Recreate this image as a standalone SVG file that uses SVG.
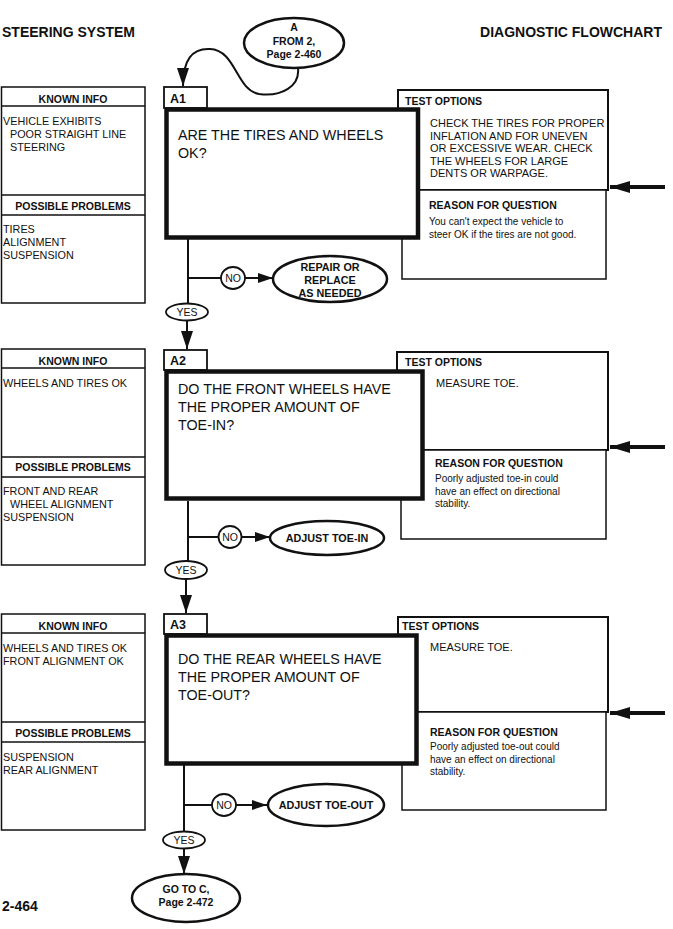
<svg xmlns="http://www.w3.org/2000/svg" width="673" height="929" viewBox="0 0 673 929">
<defs>
<style>
text{font-family:"Liberation Sans",Arial,sans-serif;fill:#111}
.b{font-weight:bold}
.h1{font-size:14px;font-weight:bold}
.hd{font-size:10.5px;font-weight:bold}
.li{font-size:10.8px}
.q{font-size:14.3px}
.to{font-size:11px}
.rs{font-size:10px}
.ov{font-size:10.8px;font-weight:bold}
.sm{font-size:10.5px}
.lb{font-size:12.5px;font-weight:bold}
.thin{fill:#fff;stroke:#111;stroke-width:1.5}
.mid{fill:#fff;stroke:#111;stroke-width:2}
.main{fill:#fff;stroke:#111;stroke-width:4.5}
.oval{fill:#fff;stroke:#111;stroke-width:2.5}
.small{fill:#fff;stroke:#111;stroke-width:1.8}
.ln{fill:none;stroke:#111;stroke-width:2}
.big{fill:none;stroke:#111;stroke-width:4}
</style>
<marker id="ah" viewBox="0 0 18 12" refX="18" refY="6" markerWidth="18" markerHeight="12" markerUnits="userSpaceOnUse" orient="auto"><path d="M0,0 L18,6 L0,12 z" fill="#111"/></marker>
<marker id="ahs" viewBox="0 0 15 10" refX="15" refY="5" markerWidth="15" markerHeight="10" markerUnits="userSpaceOnUse" orient="auto"><path d="M0,0 L15,5 L0,10 z" fill="#111"/></marker>
<marker id="ahb" viewBox="0 0 20 12" refX="20" refY="6" markerWidth="20" markerHeight="12" markerUnits="userSpaceOnUse" orient="auto"><path d="M0,0 L20,6 L0,12 z" fill="#111"/></marker>
</defs>
<rect width="673" height="929" fill="#fff"/>

<g id="titles">
<text x="2" y="37" class="h1">STEERING SYSTEM</text>
<text x="662" y="37" class="h1" text-anchor="end">DIAGNOSTIC FLOWCHART</text>
<text x="2" y="911" class="h1">2-464</text>
</g>

<g id="connectors">
<path class="ln" d="M298,68 C300,86 282,97 259,94 C236,90 236,50 210,49 C192,48 183,60 183,86" marker-end="url(#ah)"/>
<!-- A1 -->
<line class="ln" x1="188" y1="239" x2="188" y2="304"/>
<line class="ln" x1="188" y1="278" x2="221" y2="278"/>
<line class="ln" x1="245" y1="278" x2="273" y2="278" marker-end="url(#ahs)"/>
<line class="ln" x1="187" y1="320" x2="187" y2="349" marker-end="url(#ah)"/>
<line class="big" x1="665" y1="187" x2="610" y2="187" marker-end="url(#ahb)"/>
<!-- A2 -->
<line class="ln" x1="188" y1="501" x2="188" y2="561"/>
<line class="ln" x1="188" y1="537" x2="219" y2="537"/>
<line class="ln" x1="242" y1="537" x2="270" y2="537" marker-end="url(#ahs)"/>
<line class="ln" x1="186" y1="579" x2="186" y2="613" marker-end="url(#ah)"/>
<line class="big" x1="665" y1="447" x2="610" y2="447" marker-end="url(#ahb)"/>
<!-- A3 -->
<line class="ln" x1="184" y1="765" x2="184" y2="832"/>
<line class="ln" x1="184" y1="805" x2="212" y2="805"/>
<line class="ln" x1="236" y1="805" x2="267" y2="805" marker-end="url(#ahs)"/>
<line class="ln" x1="184" y1="848" x2="184" y2="874" marker-end="url(#ah)"/>
<line class="big" x1="665" y1="713" x2="610" y2="713" marker-end="url(#ahb)"/>
</g>

<g id="startA">
<ellipse class="oval" cx="294" cy="43" rx="50" ry="25"/>
<text x="294" y="31" class="sm b" text-anchor="middle">A</text>
<text x="294" y="45" class="sm b" text-anchor="middle">FROM 2,</text>
<text x="294" y="58" class="sm b" text-anchor="middle">Page 2-460</text>
</g>

<!-- ===== A1 ===== -->
<g id="A1-known">
<rect class="thin" x="1.5" y="87" width="143.5" height="216"/>
<line class="thin" x1="1.5" y1="106" x2="145" y2="106"/>
<line class="thin" x1="1.5" y1="195" x2="145" y2="195"/>
<line class="thin" x1="1.5" y1="215" x2="145" y2="215"/>
<text x="73" y="103" class="hd" text-anchor="middle">KNOWN INFO</text>
<text x="3" y="125" class="li">VEHICLE EXHIBITS</text>
<text x="10" y="138" class="li">POOR STRAIGHT LINE</text>
<text x="10" y="151" class="li">STEERING</text>
<text x="73" y="210" class="hd" text-anchor="middle">POSSIBLE PROBLEMS</text>
<text x="3" y="233" class="li">TIRES</text>
<text x="3" y="246" class="li">ALIGNMENT</text>
<text x="3" y="259" class="li">SUSPENSION</text>
</g>
<g id="A1-test">
<rect class="mid" x="398" y="90" width="210" height="100"/>
<text x="405" y="105" class="hd">TEST OPTIONS</text>
<text x="430" y="127" class="to">CHECK THE TIRES FOR PROPER</text>
<text x="430" y="139.5" class="to">INFLATION AND FOR UNEVEN</text>
<text x="430" y="152" class="to">OR EXCESSIVE WEAR.  CHECK</text>
<text x="430" y="164.5" class="to">THE WHEELS FOR LARGE</text>
<text x="430" y="177" class="to">DENTS OR WARPAGE.</text>
</g>
<g id="A1-reason">
<rect class="thin" x="402" y="190" width="204" height="89"/>
<text x="429" y="209" class="hd">REASON FOR QUESTION</text>
<text x="429" y="225" class="rs">You can't expect the vehicle to</text>
<text x="429" y="238" class="rs">steer OK if the tires are not good.</text>
</g>
<g id="A1">
<rect class="small" x="164" y="87" width="43" height="21"/>
<text x="170" y="103" class="lb">A1</text>
<rect class="main" x="166.5" y="109.5" width="251.5" height="128"/>
<text x="178" y="140" class="q">ARE THE TIRES AND WHEELS</text>
<text x="178" y="158" class="q">OK?</text>
</g>
<g id="A1-no">
<ellipse class="small" cx="233" cy="278" rx="12" ry="11"/>
<text x="233" y="282" class="sm" text-anchor="middle">NO</text>
</g>
<g id="A1-repair">
<ellipse class="oval" cx="330" cy="279" rx="57" ry="23"/>
<text x="330" y="271" class="ov" text-anchor="middle">REPAIR OR</text>
<text x="330" y="284" class="ov" text-anchor="middle">REPLACE</text>
<text x="330" y="297" class="ov" text-anchor="middle">AS NEEDED</text>
</g>
<g id="A1-yes">
<ellipse class="small" cx="187" cy="312" rx="21" ry="8.5"/>
<text x="187" y="316" class="sm" text-anchor="middle">YES</text>
</g>

<!-- ===== A2 ===== -->
<g id="A2-known">
<rect class="thin" x="1.5" y="349" width="143.5" height="216"/>
<line class="thin" x1="1.5" y1="368" x2="145" y2="368"/>
<line class="thin" x1="1.5" y1="457" x2="145" y2="457"/>
<line class="thin" x1="1.5" y1="477" x2="145" y2="477"/>
<text x="73" y="365" class="hd" text-anchor="middle">KNOWN INFO</text>
<text x="3" y="387" class="li">WHEELS AND TIRES OK</text>
<text x="73" y="471" class="hd" text-anchor="middle">POSSIBLE PROBLEMS</text>
<text x="3" y="495" class="li">FRONT AND REAR</text>
<text x="10" y="508" class="li">WHEEL ALIGNMENT</text>
<text x="3" y="521" class="li">SUSPENSION</text>
</g>
<g id="A2-test">
<rect class="mid" x="397" y="352" width="211" height="98"/>
<text x="405" y="366" class="hd">TEST OPTIONS</text>
<text x="436" y="387" class="to">MEASURE TOE.</text>
</g>
<g id="A2-reason">
<rect class="thin" x="401" y="450" width="205" height="89"/>
<text x="435" y="467" class="hd">REASON FOR QUESTION</text>
<text x="435" y="482" class="rs">Poorly adjusted toe-in could</text>
<text x="435" y="494.5" class="rs">have an effect on directional</text>
<text x="435" y="507" class="rs">stability.</text>
</g>
<g id="A2">
<rect class="small" x="164" y="350" width="43" height="20"/>
<text x="170" y="365" class="lb">A2</text>
<rect class="main" x="166.5" y="371.5" width="256" height="127"/>
<text x="178" y="394" class="q">DO THE FRONT WHEELS HAVE</text>
<text x="178" y="412" class="q">THE PROPER AMOUNT OF</text>
<text x="178" y="430" class="q">TOE-IN?</text>
</g>
<g id="A2-no">
<ellipse class="small" cx="230" cy="537" rx="11.5" ry="11"/>
<text x="230" y="541" class="sm" text-anchor="middle">NO</text>
</g>
<g id="A2-adjust">
<ellipse class="oval" cx="327" cy="538" rx="57" ry="17"/>
<text x="327" y="542" class="ov" text-anchor="middle">ADJUST TOE-IN</text>
</g>
<g id="A2-yes">
<ellipse class="small" cx="186" cy="570" rx="21" ry="9"/>
<text x="186" y="574" class="sm" text-anchor="middle">YES</text>
</g>

<!-- ===== A3 ===== -->
<g id="A3-known">
<rect class="thin" x="1.5" y="614" width="143.5" height="216"/>
<line class="thin" x1="1.5" y1="633" x2="145" y2="633"/>
<line class="thin" x1="1.5" y1="722" x2="145" y2="722"/>
<line class="thin" x1="1.5" y1="742" x2="145" y2="742"/>
<text x="73" y="630" class="hd" text-anchor="middle">KNOWN INFO</text>
<text x="3" y="652" class="li">WHEELS AND TIRES OK</text>
<text x="3" y="664.5" class="li">FRONT ALIGNMENT OK</text>
<text x="73" y="737" class="hd" text-anchor="middle">POSSIBLE PROBLEMS</text>
<text x="3" y="761" class="li">SUSPENSION</text>
<text x="3" y="774" class="li">REAR ALIGNMENT</text>
</g>
<g id="A3-test">
<rect class="mid" x="398" y="617" width="210" height="95"/>
<text x="402" y="630" class="hd">TEST OPTIONS</text>
<text x="430" y="651" class="to">MEASURE TOE.</text>
</g>
<g id="A3-reason">
<rect class="thin" x="402" y="712" width="204" height="98"/>
<text x="430" y="736" class="hd">REASON FOR QUESTION</text>
<text x="430" y="750" class="rs">Poorly adjusted toe-out could</text>
<text x="430" y="762.5" class="rs">have an effect on directional</text>
<text x="430" y="775" class="rs">stability.</text>
</g>
<g id="A3">
<rect class="small" x="164" y="614" width="43" height="20"/>
<text x="170" y="629" class="lb">A3</text>
<rect class="main" x="166.5" y="635.5" width="250" height="128"/>
<text x="178" y="664" class="q">DO THE REAR WHEELS HAVE</text>
<text x="178" y="682" class="q">THE PROPER AMOUNT OF</text>
<text x="178" y="700" class="q">TOE-OUT?</text>
</g>
<g id="A3-no">
<ellipse class="small" cx="224" cy="805" rx="12" ry="11"/>
<text x="224" y="809" class="sm" text-anchor="middle">NO</text>
</g>
<g id="A3-adjust">
<ellipse class="oval" cx="326" cy="805" rx="58" ry="21"/>
<text x="326" y="809" class="ov" text-anchor="middle">ADJUST TOE-OUT</text>
</g>
<g id="A3-yes">
<ellipse class="small" cx="184" cy="840" rx="21" ry="8.5"/>
<text x="184" y="844" class="sm" text-anchor="middle">YES</text>
</g>
<g id="goC">
<ellipse class="oval" cx="186" cy="898" rx="54" ry="24"/>
<text x="186" y="893" class="sm b" text-anchor="middle">GO TO C,</text>
<text x="186" y="906" class="sm b" text-anchor="middle">Page 2-472</text>
</g>
</svg>
